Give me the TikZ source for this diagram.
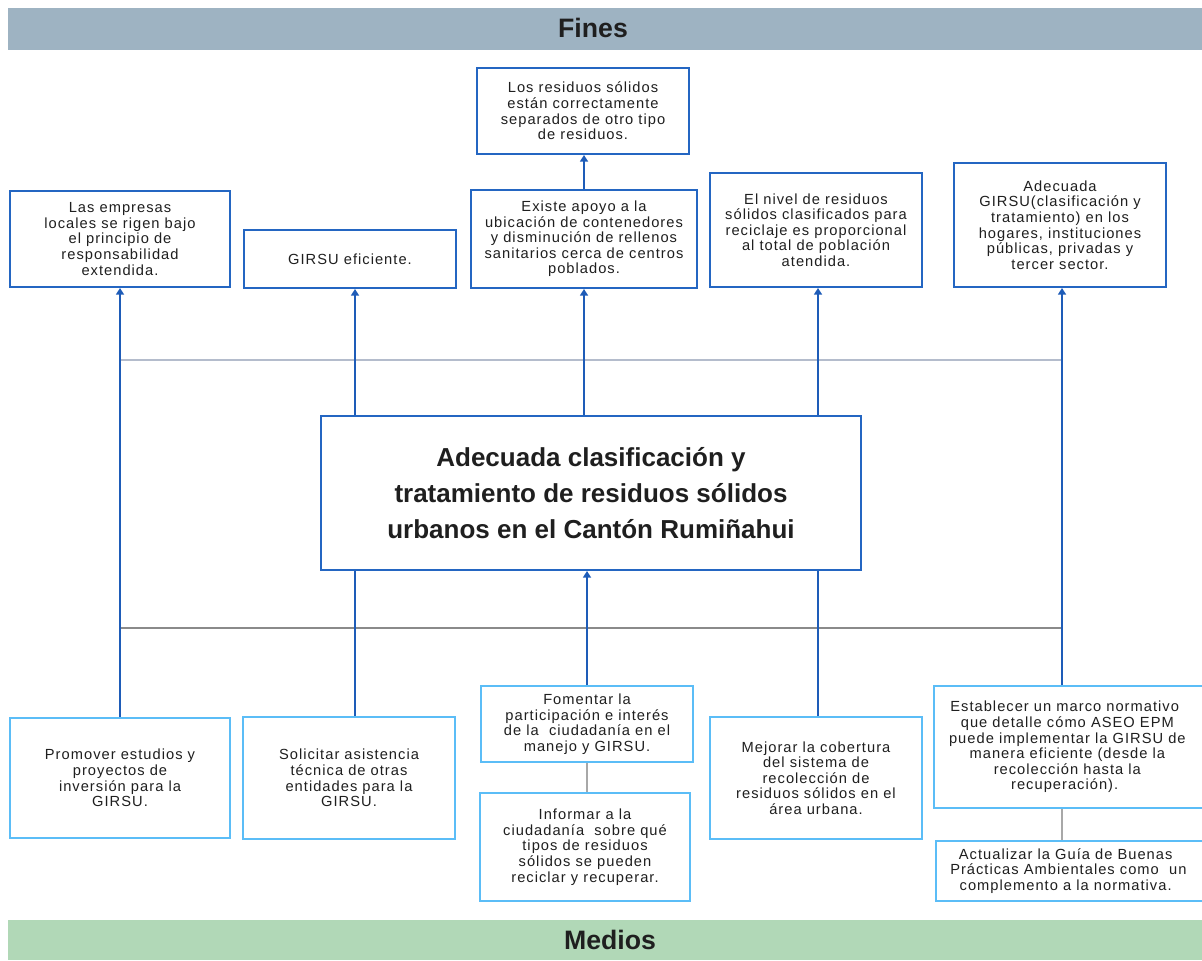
\documentclass[tikz,border=0pt]{standalone}
\usepackage{fontspec}
\setmainfont{Liberation Sans}
\newfontfamily\boxfont[LetterSpace=7]{Liberation Sans}
\usetikzlibrary{arrows.meta}

\definecolor{finesbg}{HTML}{9EB3C2}
\definecolor{mediosbg}{HTML}{B1D8B7}
\definecolor{darkedge}{HTML}{2466C2}
\definecolor{lightedge}{HTML}{5BBDF7}
\definecolor{linkblue}{HTML}{1E5CB8}
\definecolor{paleline}{HTML}{B4BCCC}
\definecolor{midgray}{HTML}{8A8A8A}
\definecolor{softgray}{HTML}{A8A8A8}
\definecolor{ink}{HTML}{1F1F1F}

\tikzset{
  sz/.style 2 args={minimum width=#1*0.75pt, minimum height=#2*0.75pt},
  basebox/.style={rectangle, inner sep=0pt, align=center, fill=white, text=ink,
    line width=1.5pt, font=\boxfont\fontsize{11pt}{11.7pt}\selectfont},
  finbox/.style={basebox, draw=darkedge},
  medbox/.style={basebox, draw=lightedge},
  corebox/.style={rectangle, inner sep=0pt, align=center, fill=white, text=ink,
    draw=darkedge, line width=1.5pt, font=\bfseries\fontsize{19.5pt}{27pt}\selectfont},
  bar/.style={rectangle, inner sep=0pt, draw=none},
  bartitle/.style={text=ink, font=\bfseries\fontsize{20pt}{24pt}\selectfont},
  conn/.style={draw=linkblue, line width=1.7pt},
  arr/.style={conn, -{Triangle[width=6pt,length=5pt]}},
  graylink/.style={draw=softgray, line width=1.1pt},
}

\begin{document}
\begin{tikzpicture}[x=0.75pt,y=-0.75pt]
\useasboundingbox (0,0) rectangle (1202,960);

% title bands
\node[bar, fill=finesbg, sz={1194}{42}] (finesbar) at (605,29) {};
\node[bartitle] (fines) at (593,28) {Fines};
\node[bar, fill=mediosbg, sz={1194}{40}] (mediosbar) at (605,940) {};
\node[bartitle] (medios) at (610,940) {Medios};

% horizontal rails
\coordinate (railAw) at (120,360);
\coordinate (railAe) at (1062,360);
\coordinate (railBw) at (120,628);
\coordinate (railBe) at (1062,628);
\draw[draw=paleline, line width=1.1pt] (railAw) -- (railAe);
\draw[draw=midgray, line width=1.1pt] (railBw) -- (railBe);

% ends
\node[finbox, sz={212}{86}] (T) at (583,111)
  {Los residuos sólidos\\están correctamente\\separados de otro tipo\\de residuos.};
\node[finbox, sz={220}{96}] (F1) at (120,239)
  {Las empresas\\locales se rigen bajo\\el principio de\\responsabilidad\\extendida.};
\node[finbox, sz={212}{58}] (F2) at (350,259) {GIRSU eficiente.};
\node[finbox, sz={226}{98}] (F3) at (584,239)
  {Existe apoyo a la\\ubicación de contenedores\\y disminución de rellenos\\sanitarios cerca de centros\\poblados.};
\node[finbox, sz={212}{114}] (F4) at (816,230)
  {El nivel de residuos\\sólidos clasificados para\\reciclaje es proporcional\\al total de población\\atendida.};
\node[finbox, sz={212}{124}] (F5) at (1060,225)
  {Adecuada\\GIRSU(clasificación y\\tratamiento) en los\\hogares, instituciones\\públicas, privadas y\\tercer sector.};

% central objective
\node[corebox, sz={540}{154}] (C) at (591,493)
  {Adecuada clasificación y\\tratamiento de residuos sólidos\\urbanos en el Cantón Rumiñahui};

% means
\node[medbox, sz={220}{120}] (M1) at (120,778)
  {Promover estudios y\\proyectos de\\inversión para la\\GIRSU.};
\node[medbox, sz={212}{122}] (M2) at (349,778)
  {Solicitar asistencia\\técnica de otras\\entidades para la\\GIRSU.};
\node[medbox, sz={212}{76}] (M3) at (587,724)
  {Fomentar la\\participación e interés\\de la \ ciudadanía en el\\manejo y GIRSU.};
\node[medbox, sz={210}{108}] (M4) at (585,847)
  {Informar a la\\ciudadanía \ sobre qué\\tipos de residuos\\sólidos se pueden\\reciclar y recuperar.};
\node[medbox, sz={212}{122}] (M5) at (816,778)
  {Mejorar la cobertura\\del sistema de\\recolección de\\residuos sólidos en el\\área urbana.};
\node[medbox, sz={272}{122}] (M6) at (1070,747)
  {\hspace*{-4pt}Establecer un marco normativo\hspace*{4pt}\\\hspace*{-4pt}que detalle cómo ASEO EPM\hspace*{4pt}\\\hspace*{-4pt}puede implementar la GIRSU de\hspace*{4pt}\\\hspace*{-4pt}manera eficiente (desde la\hspace*{4pt}\\\hspace*{-4pt}recolección hasta la\hspace*{4pt}\\\hspace*{-4pt}recuperación).\hspace*{4pt}};
\node[medbox, sz={270}{60}] (M7) at (1071,871)
  {\hspace*{-4pt}Actualizar la Guía de Buenas\hspace*{4pt}\\\hspace*{-4pt}Prácticas Ambientales como \ un\hspace*{4pt}\\\hspace*{-4pt}complemento a la normativa.\hspace*{4pt}};

% links between means
\draw[graylink] (M3.south) -- (M3.south |- M4.north);
\draw[graylink] ([xshift=1.5pt]F5.south |- M6.south) -- ([xshift=1.5pt]F5.south |- M7.north);

% links from means to ends
\draw[arr] (M1.north) -- (M1.north |- F1.south);
\draw[conn] ([xshift=4.5pt]M2.north) -- ([xshift=4.5pt]M2.north |- C.south);
\draw[arr] ([xshift=4.5pt]M2.north |- C.north) -- ([xshift=4.5pt]M2.north |- F2.south);
\draw[arr] (M3.north) -- (M3.north |- C.south);
\draw[arr] (F3.south |- C.north) -- (F3.south);
\draw[arr] (F3.north) -- (F3.north |- T.south);
\draw[conn] ([xshift=1.5pt]M5.north) -- ([xshift=1.5pt]M5.north |- C.south);
\draw[arr] ([xshift=1.5pt]M5.north |- C.north) -- ([xshift=1.5pt]M5.north |- F4.south);
\draw[arr] ([xshift=1.5pt]F5.south |- M6.north) -- ([xshift=1.5pt]F5.south);
\end{tikzpicture}
\end{document}
